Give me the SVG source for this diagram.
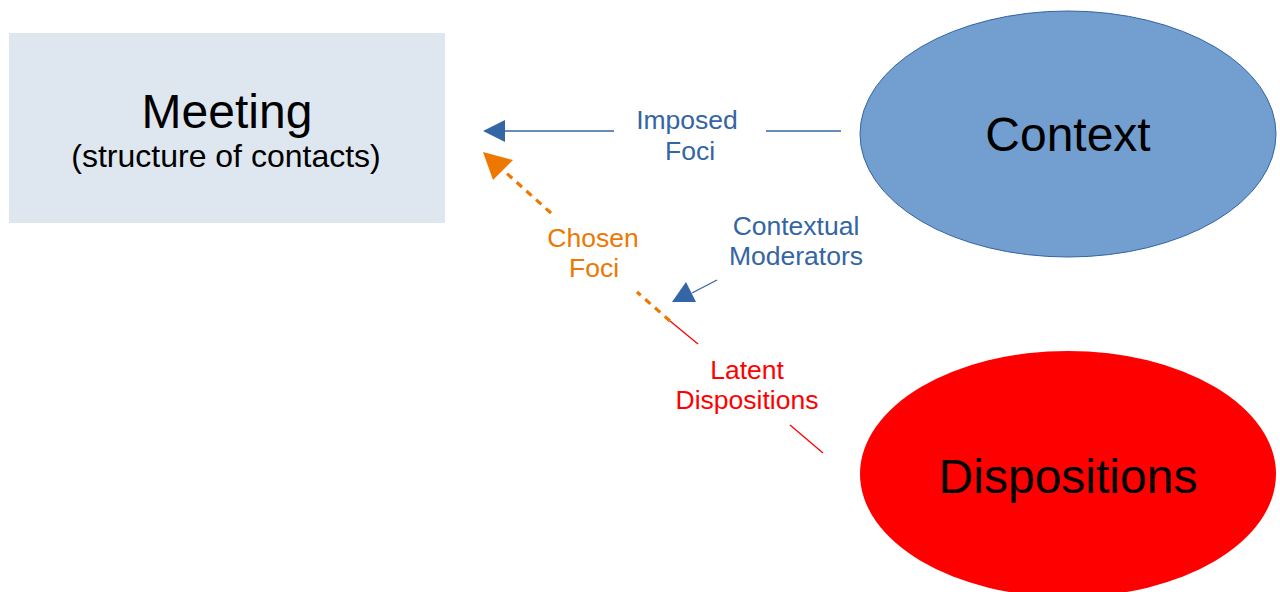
<svg xmlns="http://www.w3.org/2000/svg" width="1280" height="592" viewBox="0 0 1280 592">
  <style>
    text { font-family: "Liberation Sans", Arial, sans-serif; text-anchor: middle; }
    .node-title { font-size: 48px; fill: #000000; }
    .node-sub { font-size: 32px; fill: #000000; }
    .lbl { font-size: 26.5px; }
    .blue { fill: #3465a4; }
    .orange { fill: #ee7700; }
    .red { fill: #ff0000; }
    .imposed { stroke: #3465a4; stroke-width: 1.3; fill: none; }
    .chosen { stroke: #ee7700; stroke-width: 3.2; stroke-dasharray: 7 6; fill: none; }
    .latent { stroke: #ff0000; stroke-width: 1.3; fill: none; }
  </style>

  <rect width="1280" height="592" fill="#ffffff"/>

  <g id="meeting">
    <rect x="9" y="33" width="436" height="190" fill="#dee6ef"/>
    <text class="node-title" x="227" y="128">Meeting</text>
    <text class="node-sub" x="226" y="167">(structure of contacts)</text>
  </g>

  <g id="context">
    <ellipse cx="1068" cy="134" rx="208" ry="123" fill="#729fcf" stroke="#3465a4" stroke-width="1"/>
    <text class="node-title" x="1068" y="151">Context</text>
  </g>

  <g id="dispositions">
    <ellipse cx="1068" cy="474" rx="208" ry="123" fill="#ff0000"/>
    <text class="node-title" x="1068" y="493">Dispositions</text>
  </g>

  <g id="connectors">
    <!-- Imposed Foci: Context to Meeting -->
    <line class="imposed" x1="841" y1="131" x2="766" y2="131"/>
    <line class="imposed" x1="614" y1="131" x2="504" y2="131"/>
    <polygon points="483,131 505,120 505,142" fill="#3465a4"/>

    <!-- Contextual Moderators: Context onto the Dispositions link -->
    <line class="imposed" x1="717" y1="280" x2="692" y2="293"/>
    <polygon points="686,282 672,302 696,302" fill="#3465a4"/>

    <!-- Latent Dispositions: red link from Dispositions -->
    <line class="latent" x1="823" y1="453" x2="790" y2="425"/>
    <line class="latent" x1="698" y1="344" x2="670" y2="321"/>

    <!-- Chosen Foci: dashed continuation to Meeting -->
    <line class="chosen" x1="670" y1="321" x2="637" y2="292"/>
    <line class="chosen" x1="551" y1="213" x2="503" y2="170"/>
    <polygon points="483,152 513,160 493,180" fill="#ee7700"/>
  </g>

  <g id="labels">
    <text class="lbl blue" x="687" y="129">Imposed</text>
    <text class="lbl blue" x="690" y="160">Foci</text>
    <text class="lbl blue" x="796" y="235">Contextual</text>
    <text class="lbl blue" x="796" y="265">Moderators</text>
    <text class="lbl orange" x="593" y="247">Chosen</text>
    <text class="lbl orange" x="594" y="277">Foci</text>
    <text class="lbl red" x="747" y="379">Latent</text>
    <text class="lbl red" x="747" y="409">Dispositions</text>
  </g>
</svg>
